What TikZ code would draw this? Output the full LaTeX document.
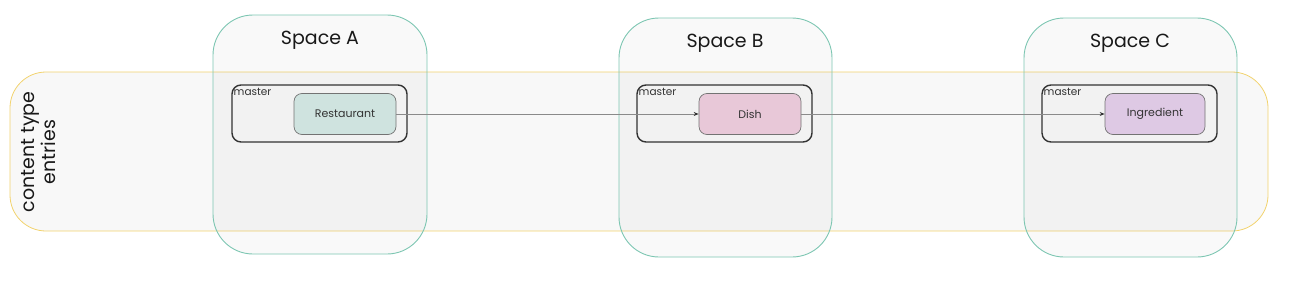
\documentclass[tikz,border=0pt]{standalone}
\usepackage{fontspec}
\setmainfont{Poppins}
\usetikzlibrary{arrows.meta}
\definecolor{bandfill}{HTML}{F8F8F8}
\definecolor{bandline}{HTML}{F2D36E}
\definecolor{spaceline}{HTML}{7DC6B2}
\definecolor{restfill}{HTML}{CFE3DF}
\definecolor{dishfill}{HTML}{E8C8D8}
\definecolor{ingrfill}{HTML}{DEC9E4}
\definecolor{conn}{HTML}{8A8A8A}
\tikzset{
  band/.style={draw=bandline, fill=bandfill, line width=0.8pt, rounded corners=36pt},
  spacebox/.style={draw=spaceline, fill=black, fill opacity=0.025, draw opacity=1, line width=0.9pt, rounded corners=40pt},
  branchbox/.style={draw=black!80, line width=1.4pt, rounded corners=9pt},
  entitybox/.style={draw=black!55, line width=0.7pt, rounded corners=8pt, font=\fontsize{11}{13}\selectfont, text=black!80},
  spacelabel/.style={font=\fontsize{19}{22}\selectfont, text=black!90},
  branchlabel/.style={font=\fontsize{10.5}{12}\selectfont, text=black!80, anchor=north west, inner sep=0pt},
  link/.style={draw=conn, line width=1pt, -{Stealth[length=5pt,width=4pt,black!80]}}
}
\begin{document}
\begin{tikzpicture}[x=1pt,y=-1pt]
\useasboundingbox (0,0) rectangle (1289,281);
% band
\path[band] (10,72) rectangle (1268,231);
\node[font=\fontsize{19}{21}\selectfont, rotate=90, align=center, text=black!90] (bandlabel) at (39,152) {content type\\entries};
% spaces
\path[spacebox] (213,15) rectangle (427,254);
\path[spacebox] (619,18) rectangle (832,257);
\path[spacebox] (1024,18) rectangle (1237,257);
\node[spacelabel] (sa) at (320,40) {Space A};
\node[spacelabel] (sb) at (725,43) {Space B};
\node[spacelabel] (sc) at (1130,43) {Space C};
% branches
\draw[branchbox] (232,85) rectangle (407,142);
\draw[branchbox] (637,85) rectangle (812,142);
\draw[branchbox] (1042,85) rectangle (1217,142);
\node[branchlabel] (ma) at (233.5,88.5) {master};
\node[branchlabel] (mb) at (638.5,88.5) {master};
\node[branchlabel] (mc) at (1043.5,88.5) {master};
% entities
\node[entitybox, fill=restfill, minimum width=102pt, minimum height=41pt] (rest) at (345,114) {Restaurant};
\node[entitybox, fill=dishfill, minimum width=102pt, minimum height=41pt] (dish) at (750,114) {Dish};
\node[entitybox, fill=ingrfill, minimum width=100pt, minimum height=41pt] (ingr) at (1155,114) {Ingredient};
% links
\draw[link] (rest.east) -- (dish.west);
\draw[link] (dish.east) -- (ingr.west);
\end{tikzpicture}
\end{document}
